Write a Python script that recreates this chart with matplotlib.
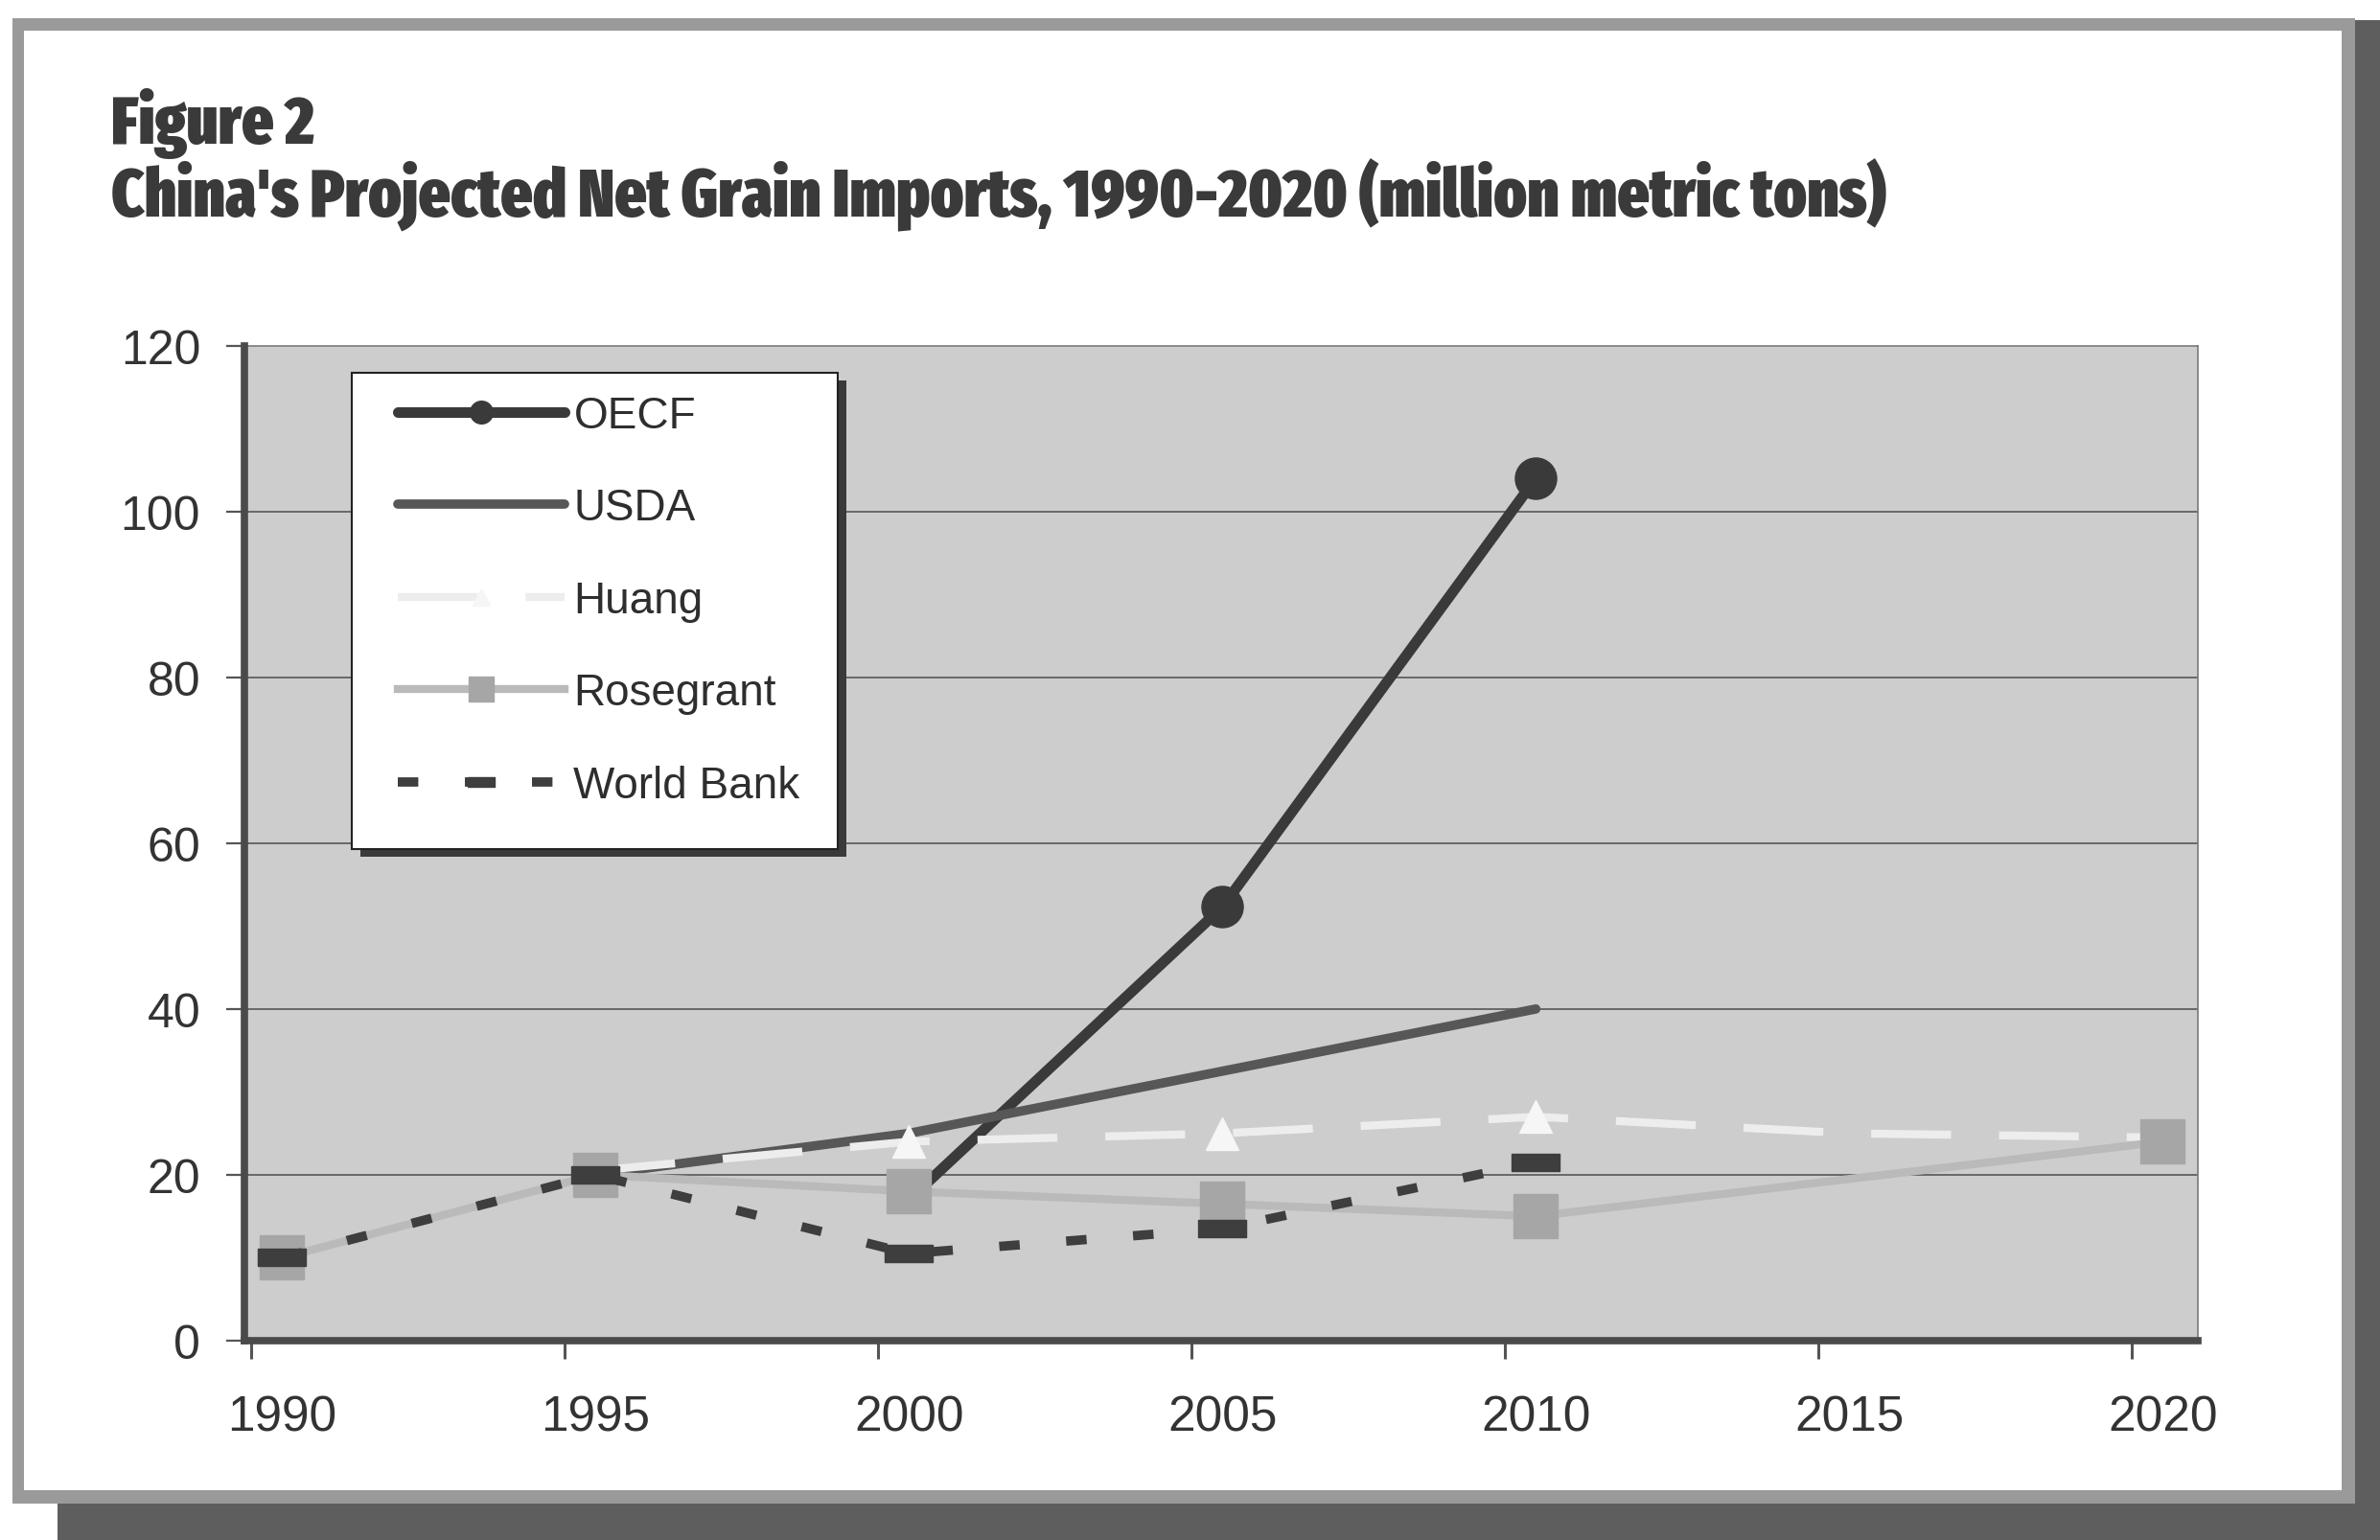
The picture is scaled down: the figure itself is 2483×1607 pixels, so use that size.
import matplotlib
matplotlib.use("Agg")
import matplotlib.pyplot as plt
from matplotlib import font_manager as fm
from matplotlib.font_manager import FontProperties
from matplotlib.patches import Rectangle
from matplotlib.path import Path
from matplotlib.lines import Line2D
from matplotlib.legend_handler import HandlerLine2D
from matplotlib.ticker import FixedLocator, NullFormatter

# ---- data (million metric tons) ----
oecf_years = [2000, 2005, 2010]
oecf = [17, 52.3, 104]

usda_years = [1995, 2000, 2005, 2010]
usda = [20, 25, 32.5, 40]

huang_years = [1995, 2000, 2005, 2010, 2015, 2020]
huang = [20.5, 24, 25, 27, 25, 24.5]

rosegrant_years = [1990, 1995, 2000, 2005, 2010, 2015, 2020]
rosegrant = [10, 20, 18, 16.5, 15, 19.5, 24]

worldbank_years = [1990, 1995, 2000, 2005, 2010]
worldbank = [10, 20, 10.5, 13.5, 21.5]

year_ticks = [1990, 1995, 2000, 2005, 2010, 2015, 2020]
year_labels = ["1990", "1995", "2000", "2005", "2010", "2015", "2020"]
value_ticks = [0, 20, 40, 60, 80, 100, 120]

fig_title = "Figure 2"
chart_title = "China's Projected Net Grain Imports, 1990-2020 (million metric tons)"

# ---- fonts ----
available = {f.name for f in fm.fontManager.ttflist}
label_font = "Liberation Sans" if "Liberation Sans" in available else "DejaVu Sans"


def pick_condensed_bold():
    """Heaviest narrow face that is installed, else a plain bold sans."""
    best = None
    for f in fm.fontManager.ttflist:
        name = f.name.lower()
        style_name = f.fname.lower()
        narrow = ("narrow" in name or "condensed" in name or "condensed" in style_name
                  or "narrow" in style_name or str(f.stretch) in ("condensed", "semi-condensed",
                                                                 "extra-condensed", "ultra-condensed"))
        if not narrow:
            continue
        try:
            w = int(f.weight)
        except (TypeError, ValueError):
            w = {"bold": 700, "heavy": 800, "black": 900, "semibold": 600,
                 "demibold": 600, "extra bold": 800}.get(str(f.weight), 400)
        if "italic" in style_name or f.style != "normal":
            continue
        score = w + (100 if "extra" in style_name or "ultra" in style_name else 0)
        if best is None or score > best[0]:
            best = (score, f.fname)
    if best is not None:
        return FontProperties(fname=best[1])
    return FontProperties(family=label_font, weight="bold")


title_props = pick_condensed_bold()

W, H = 2483, 1608
fig = plt.figure(figsize=(W / 100, H / 100), dpi=100, facecolor="white")


def frac_rect(x0, y0, x1, y1, **kw):
    """Rectangle given in top-down pixel coordinates of the figure."""
    r = Rectangle((x0 / W, 1 - y1 / H), (x1 - x0) / W, (y1 - y0) / H,
                  transform=fig.transFigure, figure=fig, zorder=-10, **kw)
    fig.patches.append(r)
    return r


# page frame: dark drop shadow, grey border, white panel
frac_rect(2457, 22, W, H, facecolor="#5e5e5e", edgecolor="none")
frac_rect(60, 1568, W, H, facecolor="#5e5e5e", edgecolor="none")
frac_rect(13, 20, 2457, 1570, facecolor="#9a9a9a", edgecolor="none")
frac_rect(25, 33, 2443, 1556, facecolor="white", edgecolor="none")

# ---- axes ----
ax_l, ax_r, ax_t, ax_b = 255, 2293, 361.6, 1400
ax = fig.add_axes([ax_l / W, 1 - ax_b / H, (ax_r - ax_l) / W, (ax_b - ax_t) / H])
ax.set_zorder(1)
ax.set_facecolor("#cdcdcd")
ax.set_xlim(1989.40, 2020.56)
ax.set_ylim(0, 120)

for y in value_ticks[1:-1]:
    ax.axhline(y, color="#4d4d4d", lw=1.1, zorder=1)

# custom wide "dash" marker for the World Bank series
dash_marker = Path([(-1, -0.36), (1, -0.36), (1, 0.36), (-1, 0.36), (-1, -0.36)],
                   [Path.MOVETO, Path.LINETO, Path.LINETO, Path.LINETO, Path.CLOSEPOLY])

h_oecf, = ax.plot(oecf_years, oecf, color="#3a3a3a", lw=8, marker="o",
                  markersize=31, markevery=[1, 2],
                  markerfacecolor="#3a3a3a", markeredgecolor="#3a3a3a",
                  solid_capstyle="round", label="OECF", zorder=3)
h_usda, = ax.plot(usda_years, usda, color="#575757", lw=7,
                  solid_capstyle="round", label="USDA", zorder=3)
h_huang, = ax.plot(huang_years, huang, color="#ededed", lw=6, ls=(0, (10, 6)),
                   marker="^", markersize=24, markevery=[1, 2, 3],
                   markerfacecolor="#f6f6f6", markeredgecolor="#f6f6f6",
                   label="Huang", zorder=3)
h_rose, = ax.plot(rosegrant_years, rosegrant, color="#bababa", lw=6,
                  marker="s", markersize=33, markevery=[0, 1, 2, 3, 4, 6],
                  markerfacecolor="#a6a6a6", markeredgecolor="#a6a6a6",
                  label="Rosegrant", zorder=3)
h_wb, = ax.plot(worldbank_years, worldbank, color="#3e3e3e", lw=7, ls=(0, (2.2, 5)),
                marker=dash_marker, markersize=36,
                markerfacecolor="#3e3e3e", markeredgecolor="#3e3e3e",
                label="World Bank", zorder=3)

# spines
for side in ("left", "bottom"):
    ax.spines[side].set_color("#4a4a4a")
    ax.spines[side].set_linewidth(5.5)
    ax.spines[side].set_zorder(4)
for side in ("top", "right"):
    ax.spines[side].set_color("#7a7a7a")
    ax.spines[side].set_linewidth(1.2)

# y axis
ax.set_yticks(value_ticks)
ax.set_yticklabels([str(v) for v in value_ticks])
ax.tick_params(axis="y", direction="out", length=14, width=1.6, color="#555555",
               pad=19, labelsize=36, labelcolor="#333333")

# x axis: labels at the years, tick marks half a year to the left
ax.set_xticks(year_ticks)
ax.set_xticklabels(year_labels)
ax.xaxis.set_minor_locator(FixedLocator([y - 0.5 for y in year_ticks]))
ax.xaxis.set_minor_formatter(NullFormatter())
ax.tick_params(axis="x", which="major", length=0, pad=40, labelsize=37,
               labelcolor="#333333")
ax.tick_params(axis="x", which="minor", direction="out", length=14, width=2.2,
               color="#555555")
for lab in ax.get_xticklabels() + ax.get_yticklabels():
    lab.set_fontfamily(label_font)

# legend box with its drop shadow (axes fraction), entries drawn on top
box_x0, box_x1, box_y0, box_y1 = 0.05496, 0.3037, 0.4940, 0.9726
ax.add_patch(Rectangle((box_x0 + 0.0044, box_y0 - 0.0077), box_x1 - box_x0, box_y1 - box_y0,
                       transform=ax.transAxes, facecolor="#3a3a3a", edgecolor="none",
                       zorder=4.4))
ax.add_patch(Rectangle((box_x0, box_y0), box_x1 - box_x0, box_y1 - box_y0,
                       transform=ax.transAxes, facecolor="white", edgecolor="#222222",
                       lw=1.5, zorder=4.5))

leg = ax.legend(handles=[h_oecf, h_usda, h_huang, h_rose, h_wb],
                handler_map={Line2D: HandlerLine2D(xpad=0.55)},
                loc="upper left", bbox_to_anchor=(box_x0, box_y1), borderaxespad=0,
                prop={"family": label_font, "size": 33}, markerscale=0.55,
                handlelength=4.35, handletextpad=0.2, labelspacing=1.145,
                borderpad=0.5, frameon=False)
leg.set_zorder(5)
for t in leg.get_texts():
    t.set_color("#2e2e2e")

# titles
t1 = fig.text(116 / W, 1 - 150 / H, fig_title, fontproperties=title_props,
              fontsize=50, color="#3a3a3a", va="baseline", ha="left")
t2 = fig.text(116 / W, 1 - 226 / H, chart_title, fontproperties=title_props,
              fontsize=50, color="#3a3a3a", va="baseline", ha="left")

fig.canvas.draw()
r = fig.canvas.get_renderer()
scale = 1852 / t2.get_window_extent(r).width
t2.set_fontsize(50 * scale)
t1.set_fontsize(50 * scale)

fig.savefig("out.png", dpi=100, facecolor="white")
